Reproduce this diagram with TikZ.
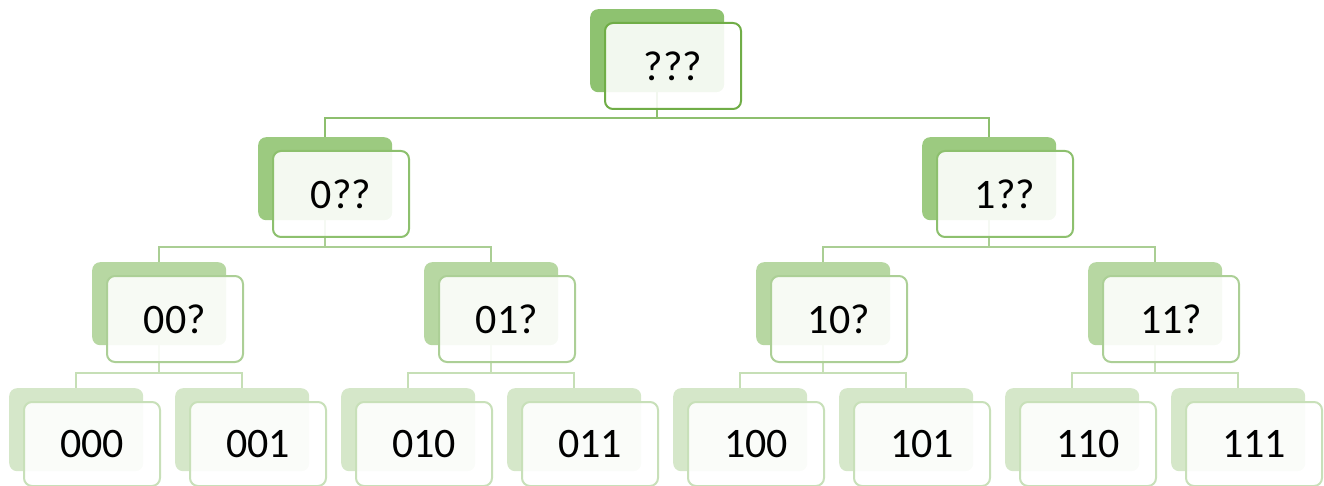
\documentclass[tikz,border=0pt]{standalone}
\usepackage{fontspec}
\setmainfont{Carlito}
\pgfdeclarelayer{background}
\pgfsetlayers{background,main}

\definecolor{back0}{RGB}{142,194,112}
\definecolor{back1}{RGB}{156,202,128}
\definecolor{back2}{RGB}{183,215,162}
\definecolor{back3}{RGB}{213,231,201}
\definecolor{edge0}{RGB}{112,173,71}
\definecolor{edge1}{RGB}{141,192,110}
\definecolor{edge2}{RGB}{172,207,150}
\definecolor{edge3}{RGB}{200,224,185}
\definecolor{link1}{RGB}{141,191,110}
\definecolor{link2}{RGB}{170,206,148}
\definecolor{link3}{RGB}{198,223,182}

\tikzset{
  backbox/.style={rectangle, rounded corners=8pt, draw=none, fill=#1,
    minimum width=134pt, minimum height=83pt, inner sep=0pt, anchor=north west},
  frontbox/.style={rectangle, rounded corners=8pt, draw=#1, line width=2pt,
    fill=white, fill opacity=0.89, text opacity=1,
    minimum width=136pt, minimum height=86pt, inner sep=0pt, anchor=north west,
    font=\fontsize{42}{50}\selectfont},
  link/.style={draw=#1, line width=2pt},
}

% one hierarchy entry: #1 name, #2 level, #3 left, #4 top, #5 label, #6 front height
\newcommand\hnode[6]{%
  \node[backbox=back#2] (b#1) at (#3,#4) {};
  \node[frontbox=edge#2, minimum height=#6pt] (f#1) at ([xshift=14pt,yshift=-13pt]b#1.north west) {#5};
}

\begin{document}
\begin{tikzpicture}[x=1pt,y=-1pt]
\useasboundingbox (0,0) rectangle (1324,486);

% level 0
\hnode{r}{0}{590}{9}{???}{86}
% level 1
\hnode{0}{1}{258}{137}{0??}{86}
\hnode{1}{1}{922}{137}{1??}{86}
% level 2
\hnode{00}{2}{92}{262}{00?}{86}
\hnode{01}{2}{424}{262}{01?}{86}
\hnode{10}{2}{756}{262}{10?}{86}
\hnode{11}{2}{1088}{262}{11?}{86}
% level 3
\hnode{000}{3}{9}{388}{000}{84}
\hnode{001}{3}{175}{388}{001}{84}
\hnode{010}{3}{341}{388}{010}{84}
\hnode{011}{3}{507}{388}{011}{84}
\hnode{100}{3}{673}{388}{100}{84}
\hnode{101}{3}{839}{388}{101}{84}
\hnode{110}{3}{1005}{388}{110}{84}
\hnode{111}{3}{1171}{388}{111}{84}

% heights of the horizontal bars
\coordinate (bar1) at (0,118);
\coordinate (bar2) at (0,247);
\coordinate (bar3) at (0,373);

\begin{pgfonlayer}{background}
  \foreach \c in {0,1}
    \draw[link=link1] (br.south) |- (b\c.north |- bar1) -- (b\c.north);
  \foreach \p/\c in {0/00,0/01,1/10,1/11}
    \draw[link=link2] (b\p.south) |- (b\c.north |- bar2) -- (b\c.north);
  \foreach \p/\c in {00/000,00/001,01/010,01/011,10/100,10/101,11/110,11/111}
    \draw[link=link3] (b\p.south) |- (b\c.north |- bar3) -- (b\c.north);
\end{pgfonlayer}
\end{tikzpicture}
\end{document}
